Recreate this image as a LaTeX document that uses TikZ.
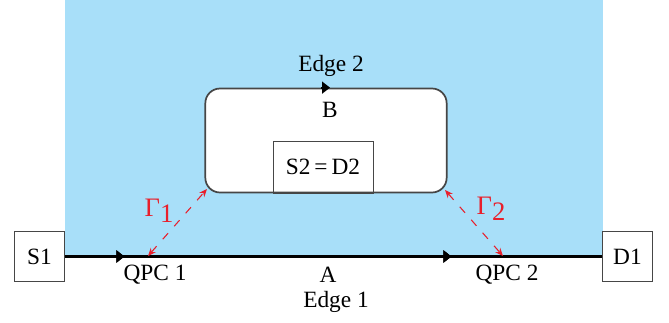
\documentclass[tikz,border=0pt]{standalone}
\usepackage{fontspec}
\setmainfont{Liberation Serif}
\usetikzlibrary{arrows.meta, positioning, calc, decorations.markings}
\definecolor{SkyBlue}{RGB}{168,223,249}
\definecolor{GammaRed}{RGB}{232,32,44}
\definecolor{FrameGray}{RGB}{70,70,70}

\tikzset{
  contact/.style={draw=FrameGray, line width=0.9pt, fill=white, minimum width=38pt, minimum height=38pt, inner sep=0pt},
  edgeline/.style={line width=1.8pt, black},
  tunnel/.style={GammaRed, line width=0.8pt, dash pattern=on 6pt off 7pt, {Stealth[length=6pt,width=5pt]}-{Stealth[length=6pt,width=5pt]}},
  midarrow/.style={postaction={decorate}, decoration={markings, mark=at position #1 with {\arrow{Triangle[length=6pt,width=9pt]}}}}
}

\begin{document}
\begin{tikzpicture}[>=Stealth, x=0.75pt, y=-0.75pt, font=\fontsize{17.5}{21}\selectfont]
  \useasboundingbox (0,0) rectangle (669,322);

  % Sample
  \fill[SkyBlue] (65,0) rectangle (603,257);

  % Contacts
  \node[contact] (S1) at (39.5,256.5) {S1};
  \node[contact] (D1) at (627.5,256.5) {D1};

  % Edge 1
  \draw[edgeline, midarrow=0.11, midarrow=0.72] (S1.east) -- (D1.west);
  \coordinate (qpcL) at (148,256);
  \coordinate (qpcR) at (503,256);
  \node (qpc1) at (155,275) {QPC 1};
  \node (edgeA) at (328,274.5) {A};
  \node (qpc2) at (507,275) {QPC 2};
  \node (edge1) at (336,302) {Edge 1};

  % Edge 2 (loop)
  \node[draw=FrameGray, line width=1.3pt, fill=white, rounded corners=11pt,
        minimum width=181pt, minimum height=78pt] (loop) at (326,140.5) {};
  \draw[-{Triangle[length=6pt,width=9pt]}, line width=1.3pt] ([xshift=-4pt]loop.north) -- ([xshift=3pt]loop.north);
  \node (edge2) at (331,65.5) {Edge 2};
  \node (edgeB) at (330,110) {B};
  \node[draw=FrameGray, line width=0.7pt, minimum width=75pt, minimum height=39pt, inner sep=0pt] (S2) at (323,167) {S2\,=\,D2};

  % Tunnelling
  \coordinate (loopL) at (207,189);
  \coordinate (loopR) at (445,190);
  \draw[tunnel] (qpcL) -- (loopL);
  \draw[tunnel] (loopR) -- (qpcR);
  \node[GammaRed, font=\fontsize{20}{24}\selectfont] (g1) at (159,211) {Γ\raisebox{-0.45ex}{1}};
  \node[GammaRed, font=\fontsize{20}{24}\selectfont] (g2) at (491,209) {Γ\raisebox{-0.45ex}{2}};
\end{tikzpicture}
\end{document}
